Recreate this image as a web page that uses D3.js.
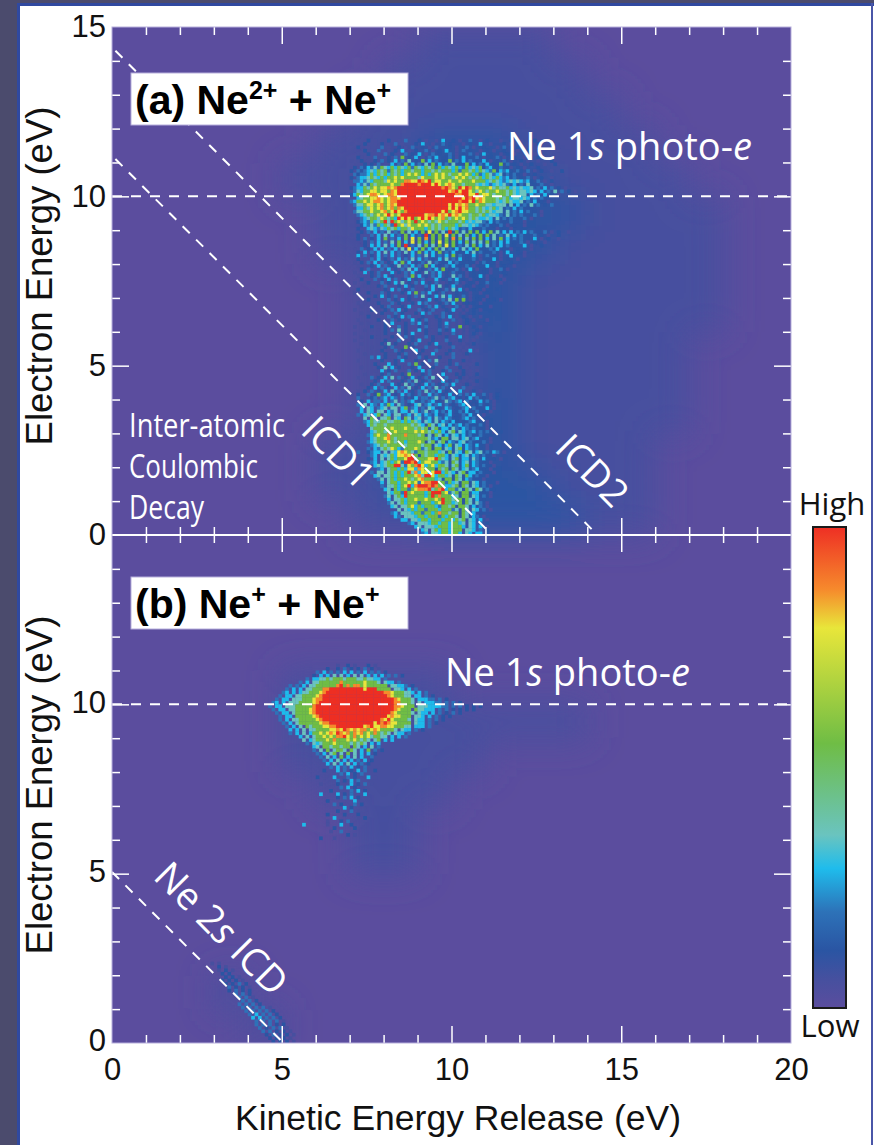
<!DOCTYPE html>
<html>
<head>
<meta charset="utf-8">
<script src="https://cdn.jsdelivr.net/npm/d3@7"></script>
<style>
  html, body { margin: 0; padding: 0; background: #fff; }
  svg { display: block; }
  .axis-num { font-family: "Liberation Sans", Arial, sans-serif; font-size: 31px; fill: #111; }
  .title { font-family: "Liberation Sans", Arial, sans-serif; font-size: 35.5px; fill: #111; }
  .panel { font-family: "Liberation Sans", Arial, sans-serif; font-size: 41px; font-weight: bold; fill: #000; }
  .note { font-family: "Open Sans", "Noto Sans", sans-serif; fill: #fff; }
  .bar-label { font-family: "Open Sans", "Noto Sans", sans-serif; font-size: 31px; fill: #111; }
</style>
</head>
<body>
<svg width="874" height="1145"></svg>
<script>
// intensity levels 0-9 and the colours of the colour bar
const levelPos = [0, 0.06, 0.12, 0.2, 0.29, 0.36, 0.55, 0.79, 0.87, 1];
const levelColors = ["#5b4d9e", "#46509f", "#2a55a3", "#2d72b8", "#1fbcec", "#6ac4bf", "#6fbd45", "#e8e63a", "#f68a2c", "#ee2f24"];

const majorTicks = [5, 10];
const minorTicksX = [1, 2, 3, 4, 6, 7, 8, 9, 11, 12, 13, 14, 16, 17, 18, 19];
const minorTicksY = [1, 2, 3, 4, 6, 7, 8, 9, 11, 12, 13, 14];
const xLabels = [0, 5, 10, 15, 20];
const yLabelsA = [0, 5, 10, 15];
const yLabelsB = [0, 5, 10];

// broad background haze, 1 eV bins, top row is 14-15 eV
const hazeA = [
  "00000000011110000000",
  "00000000111111000000",
  "00000001111111100000",
  "00000011122211110000",
  "00000111222221111000",
  "00000011222222111100",
  "00000011122221111100",
  "00000001112211111100",
  "00000001112211111100",
  "00000001111211111000",
  "00000001111211111000",
  "00000001122211111000",
  "00000011222211110000",
  "00000011222221110000",
  "00000001122222110000"
];
const hazeB = [
  "00000000000000000000",
  "00000000000000000000",
  "00000000000000000000",
  "00000000000000000000",
  "00000111110000000000",
  "00000111111111000000",
  "00000111111000000000",
  "00000011110000000000",
  "00000001100000000000",
  "00000001100000000000",
  "00000000000000000000",
  "00000000000000000000",
  "00000000000000000000",
  "00010000000000000000",
  "00001000000000000000"
];

// 0.1 eV bins, first column 7.0 eV, first row 11.7 eV, '.' is haze only
const cellsA = [
  "..1..2.1...2..1.3...2.1..1.4..2.1..3..1.2...1..2..1...2...1",
  "1...2..1.2...3.1...2.4..1..3.2...1.2..4..1...2.1....1..2....1",
  "..2..1...3.1..2.1.3..2.1.3...2.1..3.1..2...1.3...2.1...1",
  ".1..2.1.3..1.2.4.1.2..3.1.2.4..1.3.2..1.2.1..2...1..2...1....1",
  "...1.2..1.3.2.1.3.2.4.1.3.2..3.1.2.3.1.4.2..1.2.1...2.1",
  "..2.1..3.1.2.3.6.2.4.1.3.4.2.3.1.4.2.3.1.2.3.1..2..1...2",
  "1..2.1.2.3.2.4.3.5.2.6.4.3.2.6.3.4.3.2.4.1.2.3.1..2.1..1...2",
  "..1.2.2.3.1.4.3.6.4.3.5.6.4.3.5.2.6.4.3.4.2.6.3.2.1..2...1..2",
  "12.3243536546465463654656364654643645462342.3.21.2.1...2",
  "2.32345465636564665664665656664636656465436.4342.32.3.1.2..1..2",
  ".3233464656465646767646467676566767646346534523232.1..2",
  "2.34456546466767666657666767665767656564654643423.2.3.1.2..1",
  ".33435466657676688779879677667667666766645654345454342.3.1.2",
  "..435365666676689999899979767876656665454345453.4.3.5.2.3..1",
  "234465676778789999999999999898769798676667565564545445.3.4.3.2.1",
  ".354667767768799999999999999978979976576566766565455454.4.3.5.3.2.1",
  "2465678876788799999999999999999889977967765666565455.4.3.4.2.1",
  "..456677876788799999999999999999979897876665656455454.3.3.2",
  "346676788767889999999999999999998997968766654565445.3.4.2.1",
  ".355677678678799999999999999979787866766554555.5.4.3.5.3.2.3",
  "..4465767867868799999999999997979786656545645.3.4.3.2",
  ".35566766786797689999999999796789776656565455.5.3.4.3.2.1",
  "..3456567679767999999978897879787665665645543.5.3.3.2.3.1",
  "...345665765649797967979767865676765654454.5.3.3.2.3.1",
  "..23436456959675676967656576566656454553.4.3.2.3.2.1",
  "1..243536465396757667676565666646554543.3.2.3.1.2..1",
  "..2.1454354656466576664656564654.3.4.2.3.2.1.2.1",
  "...2.3.4.3.5.3.6.5.4.6.7.6.5.9.6.5.6.6.4.6.5.4.4.3.4.3.2.3.1.2..1",
  "1.2.1.3.4.5.4.3.6.4.3.9.6.6.7.6.5.6.4.6.6.5.3.5.4.3.2.3.2.1..2",
  "..2.3.2.4.6.3.4.6.7.6.8.6.6.6.8.6.5.6.6.4.5.6.4.3.3.2.4.1.2..1",
  "....2.3.4.3.5.6.4.7.6.4.6.7.6.6.4.6.5.5.6.3.4.4.2.3.1.2..1",
  "..1.2.4.4.5.4.6.9.3.5.6.5.6.7.6.3.5.6.4.5.3.4.3.2..4.1..2",
  ".1.3.2.4.4.3.4.5.7.4.6.4.6.5.3.4.5.4.6.2.3.4.2.1.2...1",
  "..2.4.3.4.5.4.3.5.4.6.4.4.6.3.4.2.4.5.3.2.3.1.4..2.1",
  "1.4.3.2.4.3.4.3.2.4.3.5.4.3.4.6.3.2.4.1.3.2.1..4...1",
  "..2.1.3.4.2.3.4.3.5.4.3.2.4.5.3.4.2.3.1.2.4.1.2..1",
  ".1.2.3.4.3.2.4.6.4.2.3.5.3.2.4.3.2.2.1.3.2.1...2",
  "..1.1.2.4.3.2.5.3.4.3.6.4.2.3.4.2.3.1.2.4..1.2..1",
  "...2.3.1.3.4.2.3.5.4.2.3.4.6.2.3.1.4.1.2.1..3.1",
  ".1..4.2.3.1.4.2.3.4.2.5.3.4.2.3.2.1.2..2.1...2",
  "..1.1.2.3.4.2.1.3.6.4.2.3.4.2.5.3.1.2.4.1...1",
  "...2.1.3.2.4.3.2.4.2.3.1.4.2.3.4.2.1.2..1.2..1",
  ".1...2.1.3.2.4.5.2.3.4.2.3.1.2.3.1.2.1..3...1",
  "....1.1.2.3.1.2.4.2.1.3.4.5.2.4.1.2.1.2.1",
  "..2...1.1.2.4.3.2.3.1.2.4.2.3.5.4.1.2..1...2",
  ".1...2.1.3.2.1.2.4.6.3.4.2.3.1.2.2.1..1.2",
  "...1.1.2.4.2.3.1.2.3.5.2.4.5.4.2.3.1.2..1",
  ".....2.1.1.3.2.4.2.1.2.4.2.3.5.6.6.1.2.1..2.1",
  "..1.1.1.2.1.3.2.1.2.4.3.1.2.3.4.1.2.2.1",
  "...1...1.2.3.1.2.4.1.2.3.4.2.1.3.1.1.2...1",
  ".1....2.1.2.3.4.2.1.3.2.3.1.2.4.1.1.2.1",
  "...1.1...2.1.3.2.1.2.4.3.1.3.2.1.1..2",
  ".....2.1.1.3.2.4.3.1.2.1.2.3.4.1.2.1..1",
  "..1.....2.1.3.2.1.4.2.3.1.2.1.3.1.2.1...1",
  "...1.1..1.2.4.1.2.3.4.2.1.2.4.1.1.2",
  ".1....2.1.2.1.3.2.1.2.3.1.2.3.1.6.1.2.1",
  "....1.1...2.3.5.2.1.4.2.1.3.2.4.1.1..2",
  ".1......1.2.1.3.2.4.1.2.1.2.1.3.1.1.2.1",
  "...1..2.1.1.2.1.3.2.1.3.2.1.2.1.4.1..1",
  ".1......1.2.1.3.1.2.4.1.2.1.3.1.2.1.1",
  "...1.....2.5.2.1.2.3.1.2.4.1.2.1.1..2",
  "......1.1.2.3.1.6.2.1.3.1.2.1.3.1.1",
  "..1......2.1.3.2.1.4.2.1.3.1.2.1.1.4.1",
  "....1...1.2.1.2.3.1.2.1.4.1.2.3.1.2",
  "......3.4.2.1.3.2.1.3.2.1.2.1.3.1.1",
  "..1......2.1.2.4.1.2.1.3.5.1.2.1.2..1",
  ".......2.1.4.2.1.3.6.2.1.3.1.2.3.1.1.2",
  "...1....2.5.4.2.1.2.4.1.2.1.3.1.2.1",
  ".......1.4.2.3.1.3.2.4.3.1.2.3.1.2.1.1",
  "....1....2.3.1.2.6.1.2.3.1.4.1.2.2.1.2",
  "..1...3.2.4.5.3.2.4.2.3.5.2.3.1.2.1",
  ".......2.4.3.1.2.3.5.2.3.1.4.2.3.1.1.2",
  "...1..2.3.1.4.2.5.3.2.4.3.2.3.4.1.2.1",
  ".....2.4.3.2.4.3.5.2.4.3.5.3.2.1.3.1",
  "..1.2.3.2.4.5.3.4.2.3.5.3.4.2.3.4.1.2.1",
  "1.2..3.26.34.2.4.32.3..4.3.2.4.23.3.4..3.1.2",
  "..3.1.23.34.43.32.24.33.35.3.34.2.24.3.2.1.2",
  "...2.4.33.4.35.3.34.23.34.2.53.34.3.2.4.3.1",
  "..3.5.43.4364.53.2.45.34.34.3.2.34.2.23.2.1",
  "...4.54.345.55.46.34.3.54.2.43.2.34.3.2.4.1",
  "...4.54.55.435.44.54.35.34.3.4.23.42.3.2.1",
  "..3.45.46.54.55.34.54.43.42.34.2.3.4.2.1",
  "....5.65.556.54.65.45.34.53.43.2.34.3.1.2",
  "....34655665566464654.54.5.43.42.2.34.2.1",
  ".....46566566666665654.65.45.4.34.3.2.3.1",
  "......56666676667665656.56.44.53.43.3.2.1",
  "......4566566766666767656464.56.54.34.3.3.1.2",
  ".....34676686666866656.5.65.4.54.4.32.3.2",
  "......45667865666666666534.66.55.45.34.2.1",
  ".....34566676566466676.56.56.43.45.3.2.3.1",
  "......345656666656666566.54.46.54.43.42.1",
  ".....3.43565764366676356.66.54.56.43.32.1",
  "..3..2344.5.5478765366566645.6.54.65.45.3.43.1",
  "......34.54564778796.65664664.54.45.43.32.1",
  ".....2.4.5.564667995666779654.56.44.53.42.2.1",
  "......34.45646739989467766435.65.45.43.2.1",
  ".......4545669953768974674665.56.46.43.32.1",
  "........34.56646477487666.656.65.45.34.2.1",
  "......3.55.56464695847747994654.56.44.3.2.1",
  ".......45.55646466678599746645.65.64.32.1",
  "........35.5646676567866645.66.65.43.2.1",
  ".........4.566466767378899663645.66.54.3.2.1",
  ".........3.556467948999898664456.65.54.3.1",
  "..........45.64663678889568946635.65.65.3.2",
  "...........546639676664699967356.66.44.2.1",
  "..........35.5649666664696866645.66.54.3.1",
  "...........4.55646676676676966566.65.4.2",
  "...........35.5646663666467966456.65.53.1",
  "............45.5567464666436656.665.4.3.1",
  "..............5.5464663666466635.65.54.3.1",
  "............34.55546636646866566.65.4.2",
  ".............43.5554664666364665.65.43.1",
  "...............44.5546646664664656.54.4.1",
  ".................34.55546646646645.54.3.2",
  "...................45.555466646664.54.4.1",
  ".....................45.564664666.554.3.2",
  ".....................34.554664664.54.44.2"
];
const cellsAx0 = 7.0;
const cellsAy0 = 11.7;

// 0.1 eV bins, first column 4.5 eV, first row 11.2 eV
const cellsB = [
  ".....................1..2.1...2.1",
  "..................2..2.3.2.2.3.2.1",
  "...............3.4.3.3.4.4.3.4.3.3.2",
  "..............2.4.4.5.5.4.5.5.4.4.4.3.3.2",
  "............3.44556566656665565544.3",
  "..........3.4.55666666866666676665.544.3",
  ".......3.3.4.55666666896868867666666.55443.2",
  "......3.4.4.5566688999999999979996666.554.4.3",
  ".....34.4.4556667899999999999999999887666554.4.3",
  "....3.44.5566667899999999999999999998766655.44.3.2",
  "...3.44.555666788999999999999999999999876665.44433.3.2",
  "..34.4.5556666789999999999999999999999886665.5.44433.3.3.2",
  ".3.44.55566666899999999999999999999999887666.555444433.3.3.2.2.2",
  "..3.44.556666789999999999999999999999987666.655444.3.3.2.2.2.2",
  "...3.44.566667899999999999999999999998766665.544.4.3.2.3.2",
  "....3.44.6666678999999999999999999997877666.554.4.3.2.2",
  "....3.4.55666667899999999999999999879766665.544.3.3.2",
  ".....3.4.5666666788999999999999979898776666.544.3.2",
  "......3.4.5.6566677889999999978977887766655.444.3",
  ".......4.4.5.55666677879878788678766665.544.3.2",
  ".......3.4.5.466767879878687867686565.544.3",
  "..........4.5.5667676889768676756655.4.4.3",
  "...........5.456667686667676565.56.4.4",
  "............3.5456667666656565.4.4",
  "..............45.66566566.65.4.5.3",
  "..............3.5.6.5665.65.4.6.3.2",
  "...............3.4.56.5.6.5.4.4.2",
  "................3.5.4.6.4.5.4..3",
  ".................3.4.5.4.4.3.4.2",
  "..................4.5.4.5.4.3.2",
  "...................3.4.3.4.2.3",
  ".................2...4.3.2.4.3..2",
  "......................3.4.2.3",
  "...............2....4...3.2...4.1",
  ".....................3.2.4.3",
  "................1....2...4.2.3.1",
  "......................3.4.2.1",
  "...................2.....3.4.2",
  "................4....4.2.3...4",
  ".....................2.3.4.2",
  "..................2.......4.1",
  "....................3.2...3.2",
  ".......................4.2",
  ".....................2...3.1",
  "..................2....2...2",
  "....................4......1.2",
  "..................1...2.3",
  "...........4......1...4..2",
  "....................2.....2",
  "...................1..3",
  "........................2.1",
  "................2...1"
];
const cellsBx0 = 4.5;
const cellsBy0 = 11.2;

// streak under the Ne 2s ICD line, first column 2.7 eV, first row 2.4 eV
const tailB = [
  "..1.1",
  "....2.1",
  "....1.2.1",
  ".....2.2",
  "......2.2.1",
  ".....2.2.2.1",
  "......2.2.3.2",
  ".......3.2.2.1",
  ".......2.3.2.2",
  ".........3.3.2",
  "..........3.3.1",
  "...........3.3.2",
  "..........3.3.3.2",
  "...........3.3.3.3.1",
  "............3.3.3.3.2",
  ".............3.4.3.3.2",
  "..............4.4.3.3.2",
  "...............3.3.3.3.1",
  "...............3.3.3.2.2",
  "................3.2.3.3.1",
  ".................3.3.2.2.1",
  "..................2.3.2.2.1",
  "...................2.2.2.1",
  "....................2.2.2.1"
];
const tailBx0 = 2.7;
const tailBy0 = 2.4;

const svg = d3.select("svg");
const defs = svg.append("defs");
const left = 112, right = 791;

const x = d3.scaleLinear().domain([0, 20]).range([left, right]);
const yA = d3.scaleLinear().domain([0, 15]).range([535, 27]);
const yB = d3.scaleLinear().domain([0, 15]).range([1043, 535]);
const color = d3.scaleLinear().domain(levelPos).range(levelColors);
const levelColor = k => levelColors[k];

// page frame
svg.append("rect").attr("x", 0).attr("y", 0).attr("width", 17).attr("height", 1145).attr("fill", "#4b4b6d");
svg.append("rect").attr("x", 0).attr("y", 0).attr("width", 874).attr("height", 3).attr("fill", "#4b4b6d");
svg.append("rect").attr("x", 17).attr("y", 3).attr("width", 874).attr("height", 3).attr("fill", "#3049a0");
svg.append("rect").attr("x", 17).attr("y", 3).attr("width", 3).attr("height", 1142).attr("fill", "#3049a0");
svg.append("rect").attr("x", 871).attr("y", 3).attr("width", 2).attr("height", 1142).attr("fill", "#4a56a8");

defs.append("filter").attr("id", "haze")
  .attr("x", "-10%").attr("y", "-10%").attr("width", "120%").attr("height", "120%")
  .append("feGaussianBlur").attr("stdDeviation", 17);
defs.append("filter").attr("id", "soft")
  .append("feGaussianBlur").attr("stdDeviation", 0.35);
defs.append("clipPath").attr("id", "plotClip")
  .append("rect").attr("x", left).attr("y", 27).attr("width", right - left).attr("height", 1043 - 27);

const plot = svg.append("g").attr("clip-path", "url(#plotClip)");
plot.append("rect").attr("x", left).attr("y", 27).attr("width", right - left).attr("height", 1043 - 27)
  .attr("fill", levelColors[0]);

function toCells(rows, x0, y0, step) {
  const cells = [];
  rows.forEach((row, i) => {
    row.split("").forEach((ch, j) => {
      if (ch >= "1" && ch <= "9") {
        cells.push({ x: x0 + j * step, y: y0 - i * step, level: +ch });
      }
    });
  });
  return cells;
}

function drawCells(parent, rows, x0, y0, step, y) {
  parent.selectAll(null)
    .data(toCells(rows, x0, y0, step))
    .join("rect")
    .attr("x", d => x(d.x))
    .attr("y", d => y(d.y))
    .attr("width", x(step) - x(0) + 0.3)
    .attr("height", y(0) - y(step) + 0.3)
    .attr("fill", d => levelColor(d.level));
}

const hazeGroup = plot.append("g").attr("filter", "url(#haze)");
drawCells(hazeGroup, hazeA, 0, 15, 1, yA);
drawCells(hazeGroup, hazeB, 0, 15, 1, yB);

const cellGroup = plot.append("g").attr("filter", "url(#soft)");
drawCells(cellGroup, cellsA, cellsAx0, cellsAy0, 0.1, yA);
drawCells(cellGroup, cellsB, cellsBx0, cellsBy0, 0.1, yB);
drawCells(cellGroup, tailB, tailBx0, tailBy0, 0.1, yB);

// dashed guide lines in data units: [x1, y1, x2, y2]
const guidesA = [[0, 10, 20, 10], [0.1, 14.3, 14.3, 0], [0.1, 11.1, 11.2, 0]];
const guidesB = [[0, 10, 20, 10], [0, 5.05, 5.05, 0]];
function drawGuides(list, y) {
  plot.append("g").selectAll("line").data(list).join("line")
    .attr("x1", d => x(d[0])).attr("y1", d => y(d[1]))
    .attr("x2", d => x(d[2])).attr("y2", d => y(d[3]))
    .attr("stroke", "#fff").attr("stroke-width", 2).attr("stroke-dasharray", "10 9");
}
drawGuides(guidesA, yA);
drawGuides(guidesB, yB);

// ticks, all inward
function styleTicks(g) {
  g.select(".domain").remove();
  g.selectAll("line").attr("stroke", "#fff").attr("stroke-width", 1.5);
  g.selectAll("text").remove();
}
function frameTicks(yScale) {
  const top = yScale.range()[1], bottom = yScale.range()[0];
  [[d3.axisTop, top], [d3.axisBottom, bottom]].forEach(([axis, pos]) => {
    svg.append("g").attr("transform", `translate(0,${pos})`)
      .call(axis(x).tickValues(minorTicksX).tickSize(-8)).call(styleTicks);
    svg.append("g").attr("transform", `translate(0,${pos})`)
      .call(axis(x).tickValues(majorTicks.concat([15])).tickSize(-17)).call(styleTicks);
  });
  svg.append("g").attr("transform", `translate(${left},0)`)
    .call(d3.axisLeft(yScale).tickValues(minorTicksY).tickSize(-8)).call(styleTicks);
  svg.append("g").attr("transform", `translate(${left},0)`)
    .call(d3.axisLeft(yScale).tickValues(majorTicks).tickSize(-17)).call(styleTicks);
  svg.append("g").attr("transform", `translate(${right},0)`)
    .call(d3.axisRight(yScale).tickValues(minorTicksY).tickSize(-8)).call(styleTicks);
  svg.append("g").attr("transform", `translate(${right},0)`)
    .call(d3.axisRight(yScale).tickValues(majorTicks).tickSize(-17)).call(styleTicks);
}
frameTicks(yA);
frameTicks(yB);

// plot edges
svg.append("line").attr("x1", left).attr("x2", right).attr("y1", 535).attr("y2", 535)
  .attr("stroke", "#fff").attr("stroke-width", 2);
svg.append("rect").attr("x", left).attr("y", 27).attr("width", right - left).attr("height", 1043 - 27)
  .attr("fill", "none").attr("stroke", "#b7afdc").attr("stroke-width", 1);

// number labels
function numberAxis(call, transform) {
  const g = svg.append("g").attr("transform", transform).call(call);
  g.select(".domain").remove();
  g.selectAll("line").remove();
  g.selectAll("text").attr("class", "axis-num");
  return g;
}
numberAxis(d3.axisLeft(yA).tickValues(yLabelsA).tickSize(0).tickPadding(6), `translate(${left},0)`);
numberAxis(d3.axisLeft(yB).tickValues(yLabelsB).tickSize(0).tickPadding(6), `translate(${left},-2)`);
numberAxis(d3.axisBottom(x).tickValues(xLabels).tickSize(0).tickPadding(15), "translate(0,1043)");

svg.append("text").attr("class", "title").attr("text-anchor", "middle")
  .attr("x", 458).attr("y", 1130).text("Kinetic Energy Release (eV)");
[[276], [785]].forEach(([cy]) => {
  svg.append("text").attr("class", "title").attr("text-anchor", "middle").style("font-size", "36.5px")
    .attr("transform", `translate(52,${cy}) rotate(-90)`).text("Electron Energy (eV)");
});

// panel captions
function panelLabel(boxX, boxY, boxW, boxH, textY, parts) {
  svg.append("rect").attr("x", boxX).attr("y", boxY).attr("width", boxW).attr("height", boxH)
    .attr("fill", "#fff").attr("stroke", "#b7afdc").attr("stroke-width", 1);
  const t = svg.append("text").attr("class", "panel").attr("x", boxX + 4).attr("y", textY);
  parts.forEach(p => {
    t.append("tspan").text(p[0]).attr("font-size", p[1] ? 25 : null).attr("dy", p[1] ? -15 : (p[2] ? 15 : 0));
  });
}
panelLabel(131, 73, 277, 52, 114, [["(a) Ne"], ["2+", true], [" + Ne", false, true], ["+", true]]);
panelLabel(131, 577, 277, 52, 618, [["(b) Ne"], ["+", true], [" + Ne", false, true], ["+", true]]);

// white annotations
function photoLabel(px, py) {
  const t = svg.append("text").attr("class", "note").attr("x", px).attr("y", py).attr("font-size", 38);
  t.append("tspan").text("Ne 1");
  t.append("tspan").text("s").attr("font-style", "italic");
  t.append("tspan").text(" photo-");
  t.append("tspan").text("e").attr("font-style", "italic");
}
photoLabel(507, 160);
photoLabel(445, 686);

[["Inter-atomic", 437, 156], ["Coulombic", 478, 129], ["Decay", 519, 75]].forEach(d => {
  svg.append("text").attr("class", "note").attr("x", 129).attr("y", d[1]).attr("font-size", 33)
    .attr("textLength", d[2]).attr("lengthAdjust", "spacingAndGlyphs").text(d[0]);
});

function slanted(px, py, parts) {
  const t = svg.append("text").attr("class", "note").attr("font-size", 38).attr("text-anchor", "middle")
    .attr("transform", `translate(${px},${py}) rotate(45)`);
  parts.forEach(p => t.append("tspan").text(p[0]).attr("font-style", p[1] ? "italic" : null));
}
slanted(329, 462, [["ICD1"]]);
slanted(583, 480, [["ICD2"]]);
slanted(212, 938, [["Ne 2"], ["s", true], [" ICD"]]);

// colour bar
const grad = defs.append("linearGradient").attr("id", "barGrad")
  .attr("x1", 0).attr("y1", 1).attr("x2", 0).attr("y2", 0);
grad.selectAll("stop").data(levelPos).join("stop")
  .attr("offset", d => d).attr("stop-color", d => color(d));
const bar = d3.scaleLinear().domain([0, 1]).range([1008, 527]);
svg.append("rect").attr("x", 813).attr("y", bar(1)).attr("width", 33).attr("height", bar(0) - bar(1))
  .attr("fill", "url(#barGrad)").attr("stroke", "#1a1a1a").attr("stroke-width", 2);
svg.append("text").attr("class", "bar-label").attr("text-anchor", "middle").attr("x", 832).attr("y", 515).text("High");
svg.append("text").attr("class", "bar-label").attr("text-anchor", "middle").attr("x", 830).attr("y", 1037).text("Low");
</script>
</body>
</html>
